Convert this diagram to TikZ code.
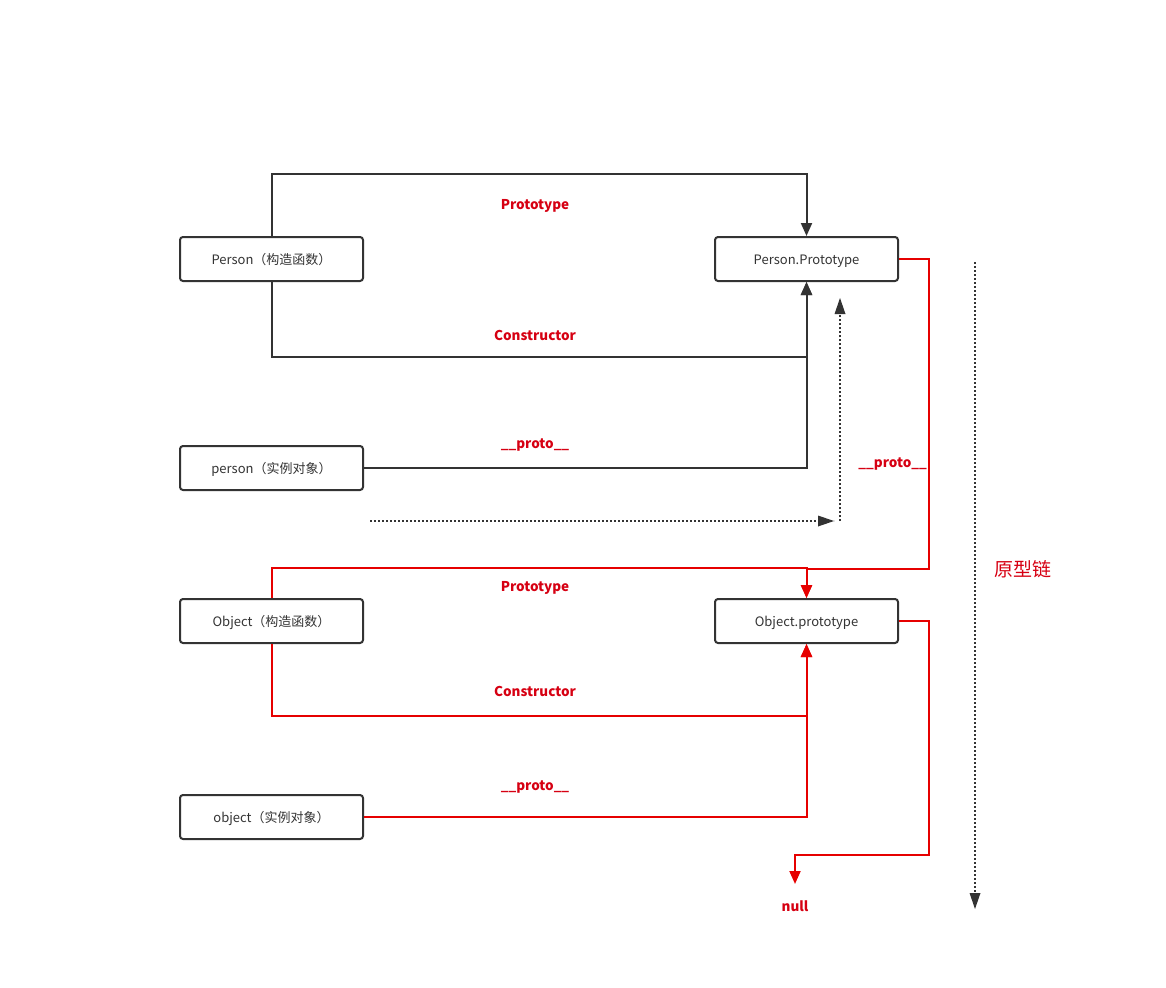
\documentclass[tikz,border=0pt]{standalone}
\usepackage{fontspec}
\setmainfont{Noto Sans CJK SC}
\usetikzlibrary{arrows.meta,calc}
\definecolor{ink}{RGB}{51,51,51}
\definecolor{lred}{RGB}{230,0,0}
\definecolor{tred}{RGB}{214,0,18}
\tikzset{
  box/.style={draw=ink,line width=2pt,rounded corners=3pt,minimum width=183pt,minimum height=44pt,inner sep=0pt,text height=12pt,text depth=2pt,font=\fontsize{13}{15}\selectfont,text=ink},
  blk/.style={draw=ink,line width=2pt},
  rd/.style={draw=lred,line width=2pt},
  tipk/.style={-{Triangle[length=13pt,width=11pt]}},
  dots/.style={draw=ink,line width=2pt,dash pattern=on 2pt off 2pt},
  lbl/.style={text=tred,font=\fontsize{13.5}{15}\selectfont\bfseries,inner sep=0pt,yshift=-1.5pt}
}
\begin{document}
\begin{tikzpicture}[x=1pt,y=-1pt]
\useasboundingbox (0,0) rectangle (1166,987);
% nodes
\node[box] (P) at (271.5,259) {Person（构造函数）};
\node[box] (PP) at (806.5,259) {Person.Prototype};
\node[box] (p) at (271.5,468) {person（实例对象）};
\node[box] (O) at (271.5,621) {Object（构造函数）};
\node[box] (OP) at (806.5,621) {Object.prototype};
\node[box] (o) at (271.5,817) {object（实例对象）};
% labels
\node[lbl] (l1) at (535,204) {Prototype};
\node[lbl] (l2) at (535,334) {Constructor};
\node[lbl] (l3) at (535,444) {\_\_proto\_\_};
\node[lbl] (l4) at (535,586) {Prototype};
\node[lbl] (l5) at (535,690) {Constructor};
\node[lbl] (l6) at (535,786) {\_\_proto\_\_};
\node[lbl,anchor=east] (l7) at (927,463) {\_\_proto\_\_};
\node[lbl] (null) at (795,905) {null};
\node[text=tred,font=\fontsize{19}{21}\selectfont,inner sep=0pt] (chain) at (1023,569) {原型链};
% black connectors
\draw[blk,tipk] (P.north) -- ++(0,-62) -| (PP.north);
\draw[blk,tipk] (P.south) -- ++(0,75) -| (PP.south);
\draw[blk,tipk] (p.east) -| (PP.south);
% dotted
\coordinate (d1) at (370,521);
\coordinate (d2) at (834,521);
\coordinate (d3) at (840,521);
\coordinate (d4) at (840,298);
\draw[dots] (d1) -- (d2);
\fill[ink] (d2) -- ++(-16,-5.5) -- ++(0,11) -- cycle;
\draw[dots] (d3) -- ($(d4)+(0,14)$);
\fill[ink] (d4) -- ++(-5.5,16) -- ++(11,0) -- cycle;
\coordinate (c1) at (975,262);
\coordinate (c2) at (975,909);
\draw[dots] (c1) -- ($(c2)+(0,-14)$);
\fill[ink] (c2) -- ++(-5.5,-16) -- ++(11,0) -- cycle;
% red connectors
\draw[rd,tipk] (PP.east) -- ++(30,0) -- ++(0,310) -| (OP.north);
\draw[rd,tipk] (O.north) -- ++(0,-30) -| (OP.north);
\draw[rd,tipk] (O.south) -- ++(0,72) -| (OP.south);
\draw[rd,tipk] (o.east) -| (OP.south);
\coordinate (nt) at (795,884);
\draw[rd,tipk] (OP.east) -- ++(30,0) -- ++(0,234) -| (nt);
\end{tikzpicture}
\end{document}
